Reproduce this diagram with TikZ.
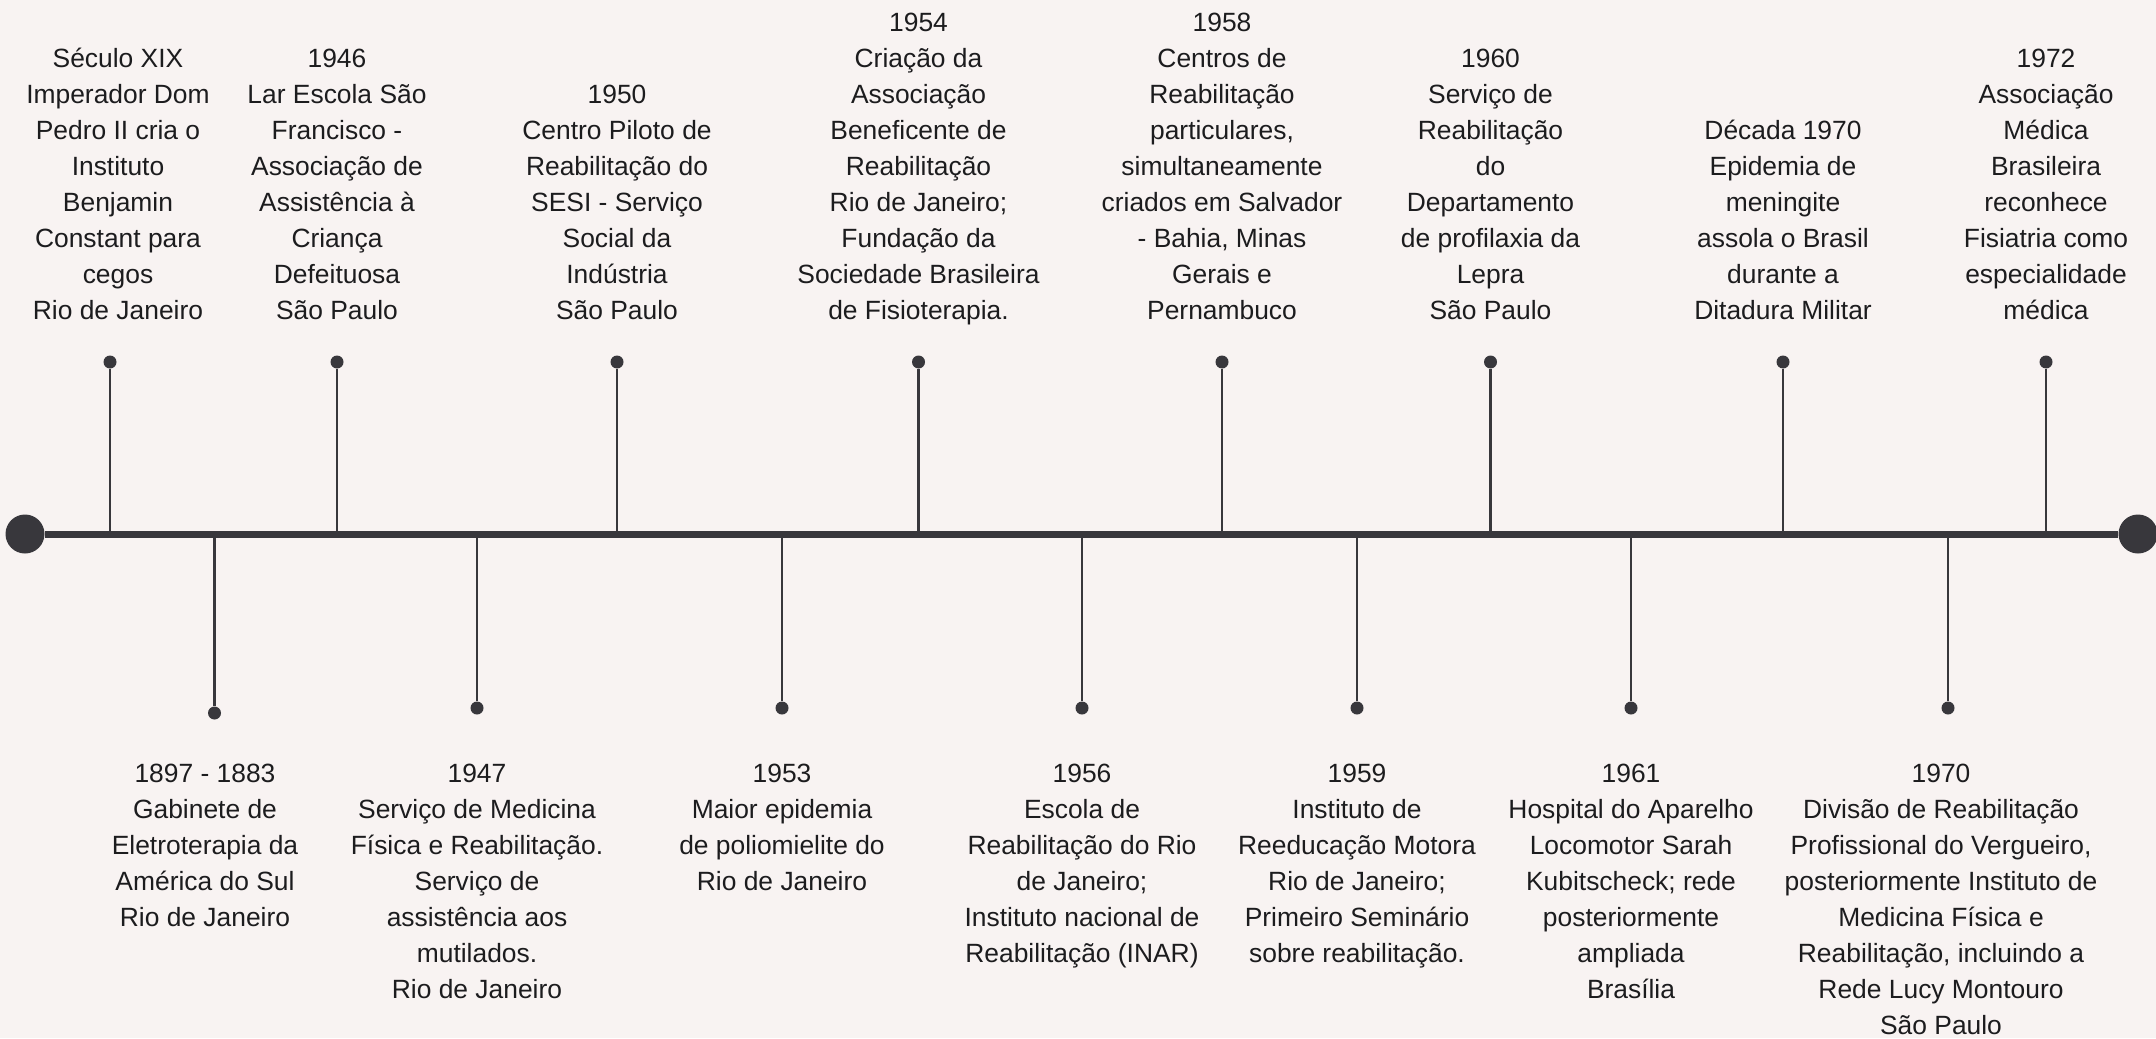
\documentclass[tikz,border=0pt]{standalone}
\usepackage{fontspec}
\setmainfont{Liberation Sans}
\usepackage{xcolor}
\usetikzlibrary{positioning}
\definecolor{paper}{RGB}{248,243,242}
\definecolor{ink}{RGB}{56,55,60}
\definecolor{txt}{RGB}{28,28,30}
\newcommand{\eventfont}{\fontsize{13.2pt}{18pt}\selectfont}
\tikzset{
    axis/.style={draw=ink, line width=3.5pt}, % the main time line
    stem/.style={draw=ink, line width=1.2pt}, % ticks between the line and the pins
    endcap/.style={circle, fill=ink, inner sep=0pt, minimum size=19.5pt}, % big dots at both ends
    pin/.style={circle, fill=ink, inner sep=0pt, minimum size=6.5pt}, % small dots at the tick ends
    event/.style={align=center, inner sep=0pt, text=txt, font=\eventfont},
    upper/.style={event, text depth=0pt}, % texts above the line sit on their last baseline
}

\begin{document}
\begin{tikzpicture}[x=0.5pt, y=-0.5pt]
    \fill[paper] (0,0) rectangle (2156,1038);
    \useasboundingbox (0,0) rectangle (2156,1038);

    % ends of the line
    \node[endcap] (start) at (25,534) {};
    \node[endcap] (end) at (2138,534) {};

    % pins above
    \node[pin] (u1) at (110,362) {};
    \node[pin] (u2) at (337,362) {};
    \node[pin] (u3) at (617,362) {};
    \node[pin] (u4) at (918.5,362) {};
    \node[pin] (u5) at (1222,362) {};
    \node[pin] (u6) at (1490.5,362) {};
    \node[pin] (u7) at (1783,362) {};
    \node[pin] (u8) at (2046,362) {};

    % pins below
    \node[pin] (d1) at (214.5,713) {};
    \node[pin] (d2) at (477,708) {};
    \node[pin] (d3) at (782,708) {};
    \node[pin] (d4) at (1082,708) {};
    \node[pin] (d5) at (1357,708) {};
    \node[pin] (d6) at (1631,708) {};
    \node[pin] (d7) at (1948,708) {};

    \path[stem]
        (u1) edge (u1 |- start)
        (u2) edge (u2 |- start)
        (u3) edge (u3 |- start)
        (u4) edge (u4 |- start)
        (u5) edge (u5 |- start)
        (u6) edge (u6 |- start)
        (u7) edge (u7 |- start)
        (u8) edge (u8 |- start)
        (d1) edge (d1 |- start)
        (d2) edge (d2 |- start)
        (d3) edge (d3 |- start)
        (d4) edge (d4 |- start)
        (d5) edge (d5 |- start)
        (d6) edge (d6 |- start)
        (d7) edge (d7 |- start);

    \draw[axis] (start) -- (end);

    % texts above
    \node[upper, above=17.75pt of u1, xshift=4pt] (t1) {Século XIX\\Imperador Dom\\Pedro II cria o\\Instituto\\Benjamin\\Constant para\\cegos\\Rio de Janeiro};
    \node[upper, above=17.75pt of u2] (t2) {1946\\Lar Escola São\\Francisco -\\Associação de\\Assistência à\\Criança\\Defeituosa\\São Paulo};
    \node[upper, above=17.75pt of u3] (t3) {1950\\Centro Piloto de\\Reabilitação do\\SESI - Serviço\\Social da\\Indústria\\São Paulo};
    \node[upper, above=17.75pt of u4] (t4) {1954\\Criação da\\Associação\\Beneficente de\\Reabilitação\\Rio de Janeiro;\\Fundação da\\Sociedade Brasileira\\de Fisioterapia.};
    \node[upper, above=17.75pt of u5] (t5) {1958\\Centros de\\Reabilitação\\particulares,\\simultaneamente\\criados em Salvador\\- Bahia, Minas\\Gerais e\\Pernambuco};
    \node[upper, above=17.75pt of u6] (t6) {1960\\Serviço de\\Reabilitação\\do\\Departamento\\de profilaxia da\\Lepra\\São Paulo};
    \node[upper, above=17.75pt of u7] (t7) {Década 1970\\Epidemia de\\meningite\\assola o Brasil\\durante a\\Ditadura Militar};
    \node[upper, above=17.75pt of u8] (t8) {1972\\Associação\\Médica\\Brasileira\\reconhece\\Fisiatria como\\especialidade\\médica};

    % texts below
    \node[event, below=21.75pt of d1, xshift=-4.75pt] (b1) {1897 - 1883\\Gabinete de\\Eletroterapia da\\América do Sul\\Rio de Janeiro};
    \node[event, below=24.25pt of d2] (b2) {1947\\Serviço de Medicina\\Física e Reabilitação.\\Serviço de\\assistência aos\\mutilados.\\Rio de Janeiro};
    \node[event, below=24.25pt of d3] (b3) {1953\\Maior epidemia\\de poliomielite do\\Rio de Janeiro};
    \node[event, below=24.25pt of d4] (b4) {1956\\Escola de\\Reabilitação do Rio\\de Janeiro;\\Instituto nacional de\\Reabilitação (INAR)};
    \node[event, below=24.25pt of d5] (b5) {1959\\Instituto de\\Reeducação Motora\\Rio de Janeiro;\\Primeiro Seminário\\sobre reabilitação.};
    \node[event, below=24.25pt of d6] (b6) {1961\\Hospital do Aparelho\\Locomotor Sarah\\Kubitscheck; rede\\posteriormente\\ampliada\\Brasília};
    \node[event, below=24.25pt of d7, xshift=-3.5pt] (b7) {1970\\Divisão de Reabilitação\\Profissional do Vergueiro,\\posteriormente Instituto de\\Medicina Física e\\Reabilitação, incluindo a\\Rede Lucy Montouro\\São Paulo};
\end{tikzpicture}
\end{document}
